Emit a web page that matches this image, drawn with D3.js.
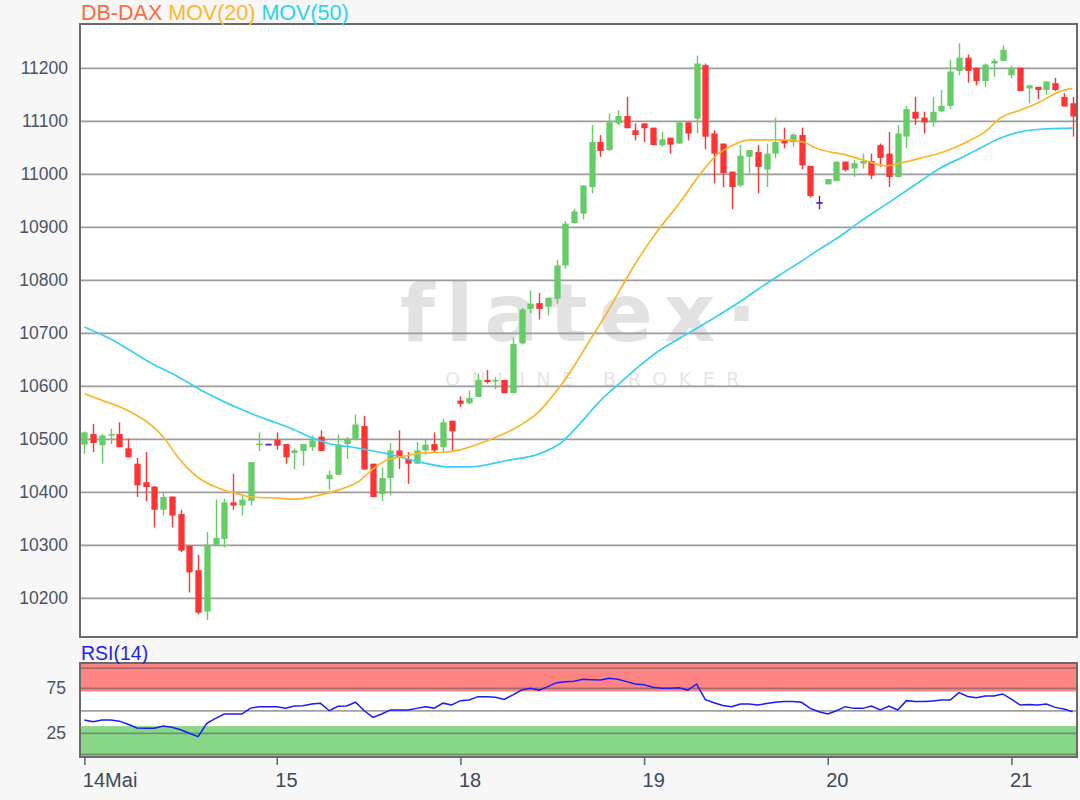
<!DOCTYPE html>
<html><head><meta charset="utf-8">
<script src="https://cdn.jsdelivr.net/npm/d3@7"></script>
<style>
body{margin:0;background:#f7f7f7;}
svg{display:block;font-family:"Liberation Sans",Arial,sans-serif;}
</style></head><body>
<svg id="c" width="1080" height="800"></svg>
<script>
// ---- DATA ----
const opens  = [10490,10510,10489,10507,10510,10483,10454,10419,10411,10367,10392,10359,10299,10253,10175,10301,10312,10381,10375,10384,
 10489,10490,10499,10491,10474,10478,10485,10505,10425,10433,10491,10501,10525,10454,10397,10427,10479,10463,10454,10479,
 10491,10485,10535,10573,10568,10580,10612,10609,10612,10587,10681,10746,10757,10750,10765,10828,10908,10926,10976,11061,
 11046,11096,11110,11083,11096,11088,11055,11069,11058,11098,11105,11206,11077,11058,11005,10979,11033,11042,11009,11039,
 11064,11061,11074,11016,10946,10981,10987,11024,11011,11020,11025,11055,11039,10995,11071,11118,11107,11098,11119,11129,
 11195,11220,11201,11176,11209,11214,11187,11201,11162,11165,11159,11172,11146,11134];
const highs  = [10515,10529,10510,10520,10532,10501,10465,10476,10411,10400,10392,10367,10299,10282,10325,10386,10388,10435,10394,10457,
 10513,10490,10513,10491,10482,10491,10507,10517,10441,10509,10504,10547,10544,10454,10447,10493,10517,10476,10495,10501,
 10513,10539,10535,10581,10592,10624,10631,10617,10612,10692,10748,10781,10776,10767,10839,10912,10935,10979,11093,11074,
 11115,11121,11146,11096,11096,11088,11080,11069,11098,11098,11224,11209,11083,11058,11005,11055,11046,11055,11058,11107,
 11088,11077,11088,11016,10959,10991,11024,11024,11027,11039,11039,11058,11080,11093,11129,11146,11118,11146,11159,11216,
 11247,11226,11201,11209,11218,11243,11205,11201,11168,11165,11175,11182,11153,11146];
const lows   = [10472,10476,10454,10491,10485,10466,10391,10383,10334,10356,10334,10287,10211,10170,10159,10301,10296,10367,10356,10375,
 10478,10490,10480,10454,10443,10450,10478,10478,10405,10432,10463,10501,10443,10391,10384,10394,10444,10416,10454,10471,
 10476,10474,10479,10561,10566,10580,10605,10595,10587,10587,10679,10738,10726,10734,10756,10822,10907,10915,10964,11033,
 11044,11093,11087,11064,11061,11055,11052,11039,11058,11064,11077,11047,10983,10976,10934,10976,11002,10964,10976,11030,
 11049,11052,11010,10956,10934,10981,10987,11005,10995,11011,10991,11014,10976,10995,11049,11093,11077,11090,11117,11123,
 11187,11173,11168,11165,11184,11214,11181,11157,11134,11142,11150,11157,11128,11071];
const closes = [10513,10493,10507,10510,10485,10466,10413,10410,10367,10391,10356,10290,10249,10173,10301,10314,10381,10375,10386,10457,
 10492,10490,10488,10466,10479,10491,10498,10478,10433,10490,10501,10528,10443,10391,10427,10479,10466,10454,10479,10490,
 10479,10532,10515,10567,10578,10612,10608,10612,10587,10680,10745,10756,10746,10767,10828,10907,10930,10979,11061,11044,
 11098,11110,11087,11074,11087,11055,11066,11056,11098,11077,11209,11071,11039,11002,10976,11035,11046,11014,11039,11061,
 11058,11075,11017,10959,10946,10991,11024,11008,11021,11025,10998,11031,10995,11077,11123,11105,11098,11118,11129,11194,
 11220,11195,11176,11207,11214,11235,11200,11157,11168,11159,11175,11159,11128,11109];

// moving averages: [candle index, value]
const ma20 = [[0,10586],[2.1,10573],[5,10554],[9.2,10501],[10.7,10466],[13,10428],[15.3,10408],[17.6,10397],[19.1,10391],
 [22.1,10389],[24,10387],[25.9,10391],[27.9,10399],[29.2,10405],[31.5,10422],[33,10444],[34.6,10461],[36.9,10469],[38.4,10474],
 [41.4,10476],[42.9,10480],[45.2,10492],[47.5,10507],[49.8,10526],[52.1,10554],[53.2,10575],[54.4,10600],[55.9,10636],[57.8,10687],[59.7,10737],
 [60.9,10772],[63.1,10834],[65.4,10890],[68.1,10947],[70.4,11000],[72.3,11036],[73.8,11052],[76.1,11065],[79.9,11065],[82.2,11061],
 [83.7,11049],[85.3,11042],[86.4,11039],[89.1,11027],[91.7,11016],[93.3,11021],[95.5,11030],[98.2,11042],[100.9,11061],[103.2,11083],
 [104.7,11106],[107,11121],[109.3,11137],[111.5,11156],[113,11162]];
const ma50 = [[0,10712],[2.9,10690],[5.2,10668],[7.5,10645],[10.4,10621],[13.2,10594],[15.7,10573],[18.3,10554],[20.6,10539],
 [23.7,10520],[25.9,10504],[27.9,10492],[30.7,10485],[34.6,10473],[38.4,10457],[41.4,10448],[44.1,10448],[48.3,10460],[52.1,10473],
 [53.2,10481],[54.4,10492],[55.5,10509],[56.7,10530],[57.8,10551],[58.9,10571],[60.1,10590],[61.3,10607],[63.5,10639],[65.8,10668],
 [68.1,10691],[70.4,10713],[72.7,10736],[75,10760],[77.2,10785],[79.5,10810],[81.8,10834],[84.1,10859],[86.4,10883],[88.3,10906],
 [92.1,10948],[95.5,10986],[97.8,11011],[100.1,11030],[102.4,11049],[104.7,11068],[107,11080],[109.3,11085],[113,11087]];

const rsi = [39.8,37.9,39.8,39.8,38.5,35,31,30.5,30.5,33,31.7,29,25,21.3,36,41.6,46.4,46.4,46.4,53,
 54.6,54.6,54.6,52.8,55.3,55.5,57.5,58.3,50.1,55,55.3,59.5,50,42.7,46.5,51,50.9,50.9,52.7,54.6,
 53,58.5,56.5,61.3,62,65.7,65.7,65,62.7,67.6,73.1,75,73,76.8,81.3,82.4,82.8,85,84.6,84.2,
 86.1,85,82.4,79.8,79,76.1,75,75,75.5,73,79.8,62.4,59,56,54.6,57.6,57.6,56.4,58,59.4,
 60.2,60.2,59.4,52.7,49,46.4,50,54.6,52.7,52.7,55.3,50.9,55.3,50.9,61.3,60.2,60.2,61,62,62,
 70.2,66,64.5,66.4,66.4,68.7,63,56.4,57,56.4,57.6,53.8,52,49];

const yTicks = [10200,10300,10400,10500,10600,10700,10800,10900,11000,11100,11200];
const dayIndex = [0,22,43,64,85,106];
const dayLabels = ["14Mai","15","18","19","20","21"];
const rsiTicks = [25,75];
const rsiLines = [1.5,25,75,97.5];
const rsiZones = {low:33, high:71.5};

// ---- LAYOUT ----
const svg = d3.select("#c");
const L = 80, R = 1077, T = 24, B = 637;
const RT = 663, RB = 757;
const N = closes.length;
const x = d3.scaleLinear().domain([-0.5, N - 0.5]).range([L, R]);
const step = x(1) - x(0);
const bw = step * 0.72;
const y = d3.scaleLinear().domain([10200, 11200]).range([598.3, 68.3]);
const yr = d3.scaleLinear().domain([0, 100]).range([755.8, 665.8]);

const GREEN = "#66cc66", RED = "#ff3333", DOJI = "#5522cc";

svg.append("rect").attr("width",1080).attr("height",800).attr("fill","#f7f7f7");

// main panel
svg.append("rect").attr("x",L).attr("y",T).attr("width",R-L).attr("height",B-T).attr("fill","#ffffff");
svg.append("defs").append("clipPath").attr("id","clipMain")
  .append("rect").attr("x",L).attr("y",T).attr("width",R-L).attr("height",B-T);

// watermark
const wm = svg.append("g").attr("clip-path","url(#clipMain)");
wm.append("text").attr("x",400).attr("y",341).text("flatex·")
  .attr("font-family","DejaVu Sans").attr("font-size",80).attr("font-weight","bold")
  .attr("letter-spacing",11).attr("fill","#e2e2e2");
wm.append("text").attr("x",445).attr("y",386).text("ONLINE BROKER")
  .attr("font-family","DejaVu Sans").attr("font-size",19)
  .attr("letter-spacing",11.5).attr("fill","#e6e6e6");

// gridlines
svg.append("g").selectAll("line").data(yTicks).join("line")
  .attr("x1",L).attr("x2",R).attr("y1",d=>y(d)).attr("y2",d=>y(d))
  .attr("stroke","#9c9c9c").attr("stroke-width",1.8);

// y axis labels
const yAxis = d3.axisLeft(y).tickValues(yTicks).tickSize(0).tickPadding(0).tickFormat(d3.format("d"));
const gy = svg.append("g").attr("transform",`translate(${L-12},0)`).call(yAxis);
gy.select(".domain").remove();
gy.selectAll("text").attr("font-size",17.5).attr("fill","#4b5563").attr("font-family","Liberation Sans, Arial, sans-serif");

// candles
const gc = svg.append("g").attr("clip-path","url(#clipMain)");
const idx = d3.range(N);
const col = i => closes[i] > opens[i] ? GREEN : closes[i] < opens[i] ? RED : DOJI;
gc.selectAll("line.w").data(idx).join("line").attr("class","w")
  .attr("x1",i=>Math.round(x(i))+0.5).attr("x2",i=>Math.round(x(i))+0.5)
  .attr("y1",i=>y(highs[i])).attr("y2",i=>y(lows[i]))
  .attr("stroke",col).attr("stroke-width",1.4);
gc.selectAll("rect.b").data(idx.filter(i=>opens[i]!==closes[i])).join("rect").attr("class","b")
  .attr("x",i=>Math.round(x(i))+0.5-bw/2).attr("width",bw)
  .attr("y",i=>y(Math.max(opens[i],closes[i])))
  .attr("height",i=>Math.max(1,Math.abs(y(opens[i])-y(closes[i]))))
  .attr("fill",col);
gc.selectAll("line.d").data(idx.filter(i=>opens[i]===closes[i])).join("line").attr("class","d")
  .attr("x1",i=>Math.round(x(i))+0.5-bw/2).attr("x2",i=>Math.round(x(i))+0.5+bw/2)
  .attr("y1",i=>y(opens[i])).attr("y2",i=>y(opens[i]))
  .attr("stroke",DOJI).attr("stroke-width",1.8);

// moving averages
const maLine = d3.line().x(d=>x(d[0])).y(d=>y(d[1])).curve(d3.curveMonotoneX);
gc.append("path").attr("d",maLine(ma50)).attr("fill","none").attr("stroke","#38d0f8").attr("stroke-width",1.7);
gc.append("path").attr("d",maLine(ma20)).attr("fill","none").attr("stroke","#ffb428").attr("stroke-width",1.7);

// main frame
svg.append("rect").attr("x",L).attr("y",T).attr("width",R-L).attr("height",B-T)
  .attr("fill","none").attr("stroke","#6a6a6a").attr("stroke-width",2);

// legend
const lg = svg.append("text").attr("x",81).attr("y",20).attr("font-size",21.5);
lg.append("tspan").text("DB-DAX ").attr("fill","#ff6a3c");
lg.append("tspan").text("MOV(20) ").attr("fill","#ffb52e");
lg.append("tspan").text("MOV(50)").attr("fill","#2cd2f4");

// RSI panel
svg.append("rect").attr("x",L).attr("y",RT).attr("width",R-L).attr("height",RB-RT).attr("fill","#ffffff");
svg.append("rect").attr("x",L).attr("y",RT).attr("width",R-L).attr("height",yr(rsiZones.high)-RT).attr("fill","#ff8585");
svg.append("rect").attr("x",L).attr("y",yr(rsiZones.low)).attr("width",R-L).attr("height",RB-yr(rsiZones.low)).attr("fill","#88d888");
svg.append("g").selectAll("line").data(rsiLines).join("line")
  .attr("x1",L).attr("x2",R).attr("y1",d=>yr(d)).attr("y2",d=>yr(d))
  .attr("stroke","#505050").attr("stroke-opacity",0.5).attr("stroke-width",1.8);
svg.append("line").attr("x1",L).attr("x2",R).attr("y1",yr(50)).attr("y2",yr(50))
  .attr("stroke","#a0a0a0").attr("stroke-width",1.8);
const rsiLine = d3.line().x((d,i)=>x(i)).y(d=>yr(d));
svg.append("path").attr("d",rsiLine(rsi)).attr("fill","none").attr("stroke","#1a1aff").attr("stroke-width",1.5);
svg.append("rect").attr("x",L).attr("y",RT).attr("width",R-L).attr("height",RB-RT)
  .attr("fill","none").attr("stroke","#6a6a6a").attr("stroke-width",2);
svg.append("text").attr("x",81).attr("y",660).text("RSI(14)").attr("font-size",19.5).attr("fill","#2222ee");

const ry = d3.axisLeft(yr).tickValues(rsiTicks).tickSize(0).tickPadding(0);
const gry = svg.append("g").attr("transform",`translate(${L-14},0)`).call(ry);
gry.select(".domain").remove();
gry.selectAll("text").attr("font-size",17.5).attr("fill","#4b5563").attr("font-family","Liberation Sans, Arial, sans-serif");

// x axis
const xAxis = d3.axisBottom(x).tickValues(dayIndex).tickSize(8).tickPadding(8).tickFormat((d,i)=>dayLabels[i]);
const gx = svg.append("g").attr("transform",`translate(0,${RB})`).call(xAxis);
gx.select(".domain").remove();
gx.selectAll(".tick line").attr("stroke","#5a6470").attr("stroke-width",1.5);
gx.selectAll("text").attr("text-anchor","start").attr("dx",-2).attr("font-size",20)
  .attr("fill","#3a4b5c").attr("font-family","Liberation Sans, Arial, sans-serif");
</script>
</body></html>
